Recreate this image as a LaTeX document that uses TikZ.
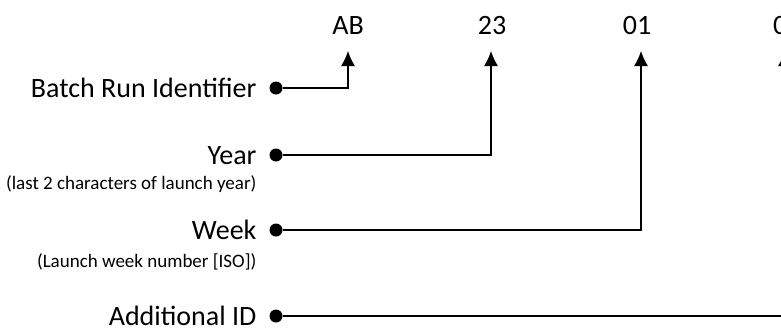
\documentclass[tikz,border=0pt]{standalone}
\usepackage{fontspec}
\setmainfont{Carlito}
\usetikzlibrary{arrows.meta}
\tikzset{
  code/.style={anchor=base,inner sep=0pt,font=\fontsize{28}{32}\selectfont},
  field/.style={anchor=base east,inner sep=0pt,text depth=0pt,font=\fontsize{28}{32}\selectfont},
  note/.style={anchor=base east,inner sep=0pt,font=\fontsize{19}{22}\selectfont},
  dot/.style={circle,fill=black,inner sep=0pt,minimum size=13pt},
}
\begin{document}
\begin{tikzpicture}[>={Latex[length=15pt,width=14pt]},x=1pt,y=-1pt,line width=1.2pt]
\clip (0,0) rectangle (781,330);
%%
\node (c_ab) at (348,34) [code] {AB};
  \node (c_yy) at (492,34) [code] {23};
  \node (c_ww) at (637,34) [code] {01};
  \node (c_id) at (772.5,34) [code,anchor=base west] {0};
  \coordinate (in_ab) at (348,51);
  \coordinate (in_yy) at (491,51);
  \coordinate (in_ww) at (641,51);
  \coordinate (in_id) at (785,51);
  \node (batch) at (257,97) [field] {Batch Run Identifier};
  \node (year) at (257,164) [field] {Year};
  \node (week) at (257,239) [field] {Week};
  \node (addid) at (257,325) [field] {Additional ID};
  \node (year_note) at (257,189) [note] {(last 2 characters of launch year)};
  \node (week_note) at (257,267) [note] {(Launch week number [ISO])};
  \node (d_batch) at (276,88) [dot] {};
  \node (d_year) at (276,155) [dot] {};
  \node (d_week) at (276,230) [dot] {};
  \node (d_addid) at (276,316) [dot] {};
  \draw [->] (d_batch) -| (in_ab);
  \draw [->] (d_year) -| (in_yy);
  \draw [->] (d_week) -| (in_ww);
  \draw [->] (d_addid) -| (in_id);
%
\end{tikzpicture}
\end{document}
